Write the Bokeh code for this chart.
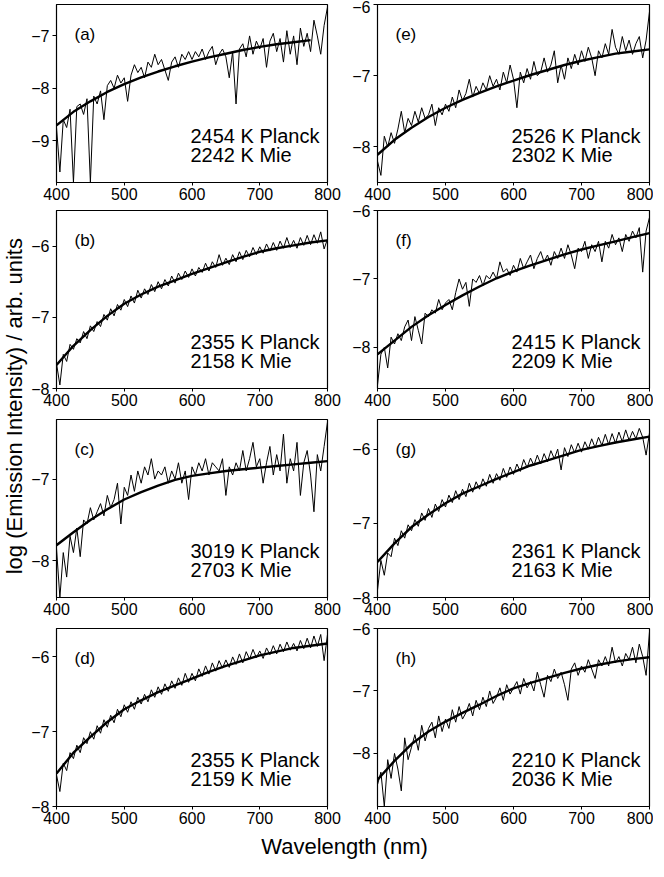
from bokeh.plotting import figure
from bokeh.layouts import row, column
from bokeh.models import Label
from bokeh.embed import file_html
from bokeh.resources import INLINE

FONT = "Liberation Sans"

# wavelength grids (nm)
wl = list(range(400, 805, 5))
fit_wl = list(range(400, 825, 25))
x_ticks = [400, 500, 600, 700, 800]

data_a = [-8.75, -9.6, -8.6, -8.75, -8.4, -9.8, -8.35, -8.3, -8.5, -8.2,
          -9.8, -8.15, -8.3, -8.05, -8.6, -7.95, -7.85, -8.0, -7.75, -7.9,
          -7.8, -8.25, -7.75, -7.55, -7.7, -7.6, -7.8, -7.5, -7.6, -7.35,
          -7.55, -7.45, -7.65, -7.85, -7.5, -7.4, -7.6, -7.35, -7.45, -7.3,
          -7.45, -7.3, -7.4, -7.25, -7.45, -7.3, -7.2, -7.55, -7.35, -7.25,
          -7.4, -7.8, -7.3, -8.3, -7.25, -7.15, -7.4, -7.0, -7.35, -7.1,
          -7.25, -7.05, -7.6, -7.1, -6.95, -7.3, -7.05, -7.5, -6.9, -7.35,
          -7.0, -7.55, -6.85, -7.2, -6.95, -7.3, -6.7, -7.0, -7.35, -6.8,
          -6.45]
data_b = [-7.65, -7.95, -7.52, -7.62, -7.38, -7.45, -7.3, -7.36, -7.2, -7.3,
          -7.12, -7.2, -7.06, -7.13, -6.96, -7.04, -6.88, -6.98, -6.82, -6.9,
          -6.75, -6.85, -6.7, -6.8, -6.62, -6.73, -6.6, -6.68, -6.54, -6.64,
          -6.5, -6.6, -6.47, -6.56, -6.42, -6.52, -6.38, -6.47, -6.35, -6.44,
          -6.32, -6.42, -6.3, -6.37, -6.24, -6.35, -6.22, -6.3, -6.12, -6.27,
          -6.17, -6.26, -6.12, -6.22, -6.08, -6.19, -6.06, -6.15, -6.02, -6.12,
          -6.01, -6.1, -5.97, -6.07, -5.95, -6.06, -5.93, -6.03, -5.88, -6.02,
          -5.92, -6.03, -5.88, -5.99, -5.85, -5.98, -5.84, -5.96, -5.8, -6.04,
          -5.9]
data_c = [-7.85, -8.45, -7.9, -8.2, -7.7, -7.9, -7.6, -7.95, -7.5, -7.55,
          -7.35, -7.5, -7.4, -7.3, -7.45, -7.2, -7.35, -7.25, -7.05, -7.55,
          -7.1, -7.2, -6.95, -7.15, -6.9, -7.05, -6.85, -6.95, -6.75, -7.0,
          -6.9, -6.95, -6.85, -7.05, -6.9, -7.0, -6.8, -7.05, -6.9, -7.25,
          -6.85, -6.95, -6.8, -6.9, -6.75, -6.95, -6.8, -6.85, -6.9, -6.75,
          -7.2, -6.85, -6.95, -6.8, -6.9, -6.65, -6.9, -6.75, -6.55, -6.85,
          -6.75, -7.05, -6.8, -6.6, -6.95, -6.7, -6.9, -6.45, -7.05, -6.75,
          -6.9, -6.55, -7.2, -6.8, -6.65, -6.95, -7.4, -6.7, -6.9, -6.6,
          -6.3]
data_d = [-7.58, -7.8, -7.42, -7.52, -7.28, -7.36, -7.18, -7.28, -7.08, -7.16,
          -7.0, -7.1, -6.92, -7.02, -6.84, -6.94, -6.78, -6.88, -6.7, -6.8,
          -6.64, -6.74, -6.6, -6.7, -6.54, -6.63, -6.5, -6.6, -6.44, -6.54,
          -6.4, -6.5, -6.36, -6.46, -6.32, -6.42, -6.28, -6.38, -6.22, -6.34,
          -6.22, -6.32, -6.16, -6.26, -6.12, -6.23, -6.08, -6.19, -6.05, -6.15,
          -6.04, -6.14, -6.0, -6.1, -5.96, -6.08, -5.93, -6.03, -5.9, -6.01,
          -5.92, -6.02, -5.88, -5.97, -5.85, -5.96, -5.83, -5.93, -5.8, -5.91,
          -5.82, -5.92, -5.78, -5.89, -5.75, -5.88, -5.72, -5.86, -5.7, -6.05,
          -5.7]
data_e = [-8.2, -8.4, -7.85, -8.0, -7.8, -7.95, -7.75, -7.5, -7.8, -7.6,
          -7.7, -7.5, -7.65, -7.45, -7.6, -7.55, -7.4, -7.7, -7.45, -7.55,
          -7.4, -7.5, -7.3, -7.45, -7.2, -7.35, -7.25, -7.05, -7.3, -7.15,
          -7.25, -7.1, -7.2, -7.0, -7.15, -7.05, -7.2, -6.95, -7.1, -6.85,
          -7.05, -7.45, -6.95, -7.1, -6.9, -7.05, -6.8, -7.0, -6.95, -6.75,
          -6.95, -6.85, -6.65, -7.1, -6.85, -7.05, -6.75, -6.9, -6.7, -6.85,
          -6.65, -6.8, -6.6, -6.75, -7.0, -6.65, -6.75, -6.55, -6.7, -6.35,
          -6.6, -6.7, -6.45, -6.65, -6.5, -6.7, -6.55, -6.45, -6.75, -6.5,
          -6.1]
data_f = [-8.55, -8.1, -8.0, -8.3, -7.85, -7.95, -7.8, -7.9, -7.7, -7.6,
          -7.9, -7.55, -7.75, -7.95, -7.5, -7.55, -7.45, -7.5, -7.3, -7.45,
          -7.35, -7.3, -7.45, -7.2, -7.0, -7.15, -7.05, -7.4, -7.0, -7.05,
          -6.95, -7.1, -6.95, -7.0, -6.9, -7.0, -6.75, -6.9, -6.85, -6.95,
          -6.8, -6.9, -6.7, -6.85, -6.75, -6.65, -6.85, -6.7, -6.6, -6.75,
          -6.65, -6.8, -6.6, -6.7, -6.55, -6.7, -6.5, -6.65, -6.85, -6.55,
          -6.6, -6.45, -6.7, -6.5, -6.6, -6.45, -6.75, -6.45, -6.55, -6.35,
          -6.5, -6.4, -6.6, -6.35, -6.45, -6.3, -6.4, -6.25, -6.9, -6.3,
          -6.1]
data_g = [-7.9, -7.5, -7.7, -7.4, -7.45, -7.2, -7.3, -7.1, -7.2, -7.02,
          -7.1, -6.95, -7.04, -6.86, -6.96, -6.8, -6.92, -6.74, -6.84, -6.68,
          -6.78, -6.62, -6.72, -6.56, -6.68, -6.54, -6.64, -6.46, -6.58, -6.44,
          -6.54, -6.4, -6.5, -6.34, -6.46, -6.33, -6.42, -6.26, -6.38, -6.24,
          -6.34, -6.2, -6.3, -6.14, -6.25, -6.12, -6.22, -6.08, -6.2, -6.06,
          -6.17, -6.02, -6.13, -6.0, -6.28, -5.98, -6.1, -5.94, -6.05, -5.92,
          -6.04, -5.9, -6.0, -5.86, -5.98, -5.84, -5.95, -5.8, -5.94, -5.79,
          -5.92, -5.77, -5.9, -5.74, -5.88, -5.76, -5.86, -5.72, -5.84, -6.08,
          -5.78]
data_h = [-8.5, -8.3, -8.85, -8.1, -8.4, -8.0, -8.25, -8.6, -7.75, -8.1,
          -7.9, -7.7, -7.95, -7.55, -7.8, -7.6, -7.5, -7.75, -7.4, -7.65,
          -7.45, -7.6, -7.3, -7.5, -7.25, -7.45, -7.35, -7.2, -7.4, -7.15,
          -7.3, -7.1, -7.25, -7.0, -7.2, -7.1, -6.95, -7.15, -6.9, -7.05,
          -6.95, -6.85, -7.05, -6.8, -6.95, -6.85, -7.0, -6.7, -6.9, -7.1,
          -6.75, -6.85, -6.65, -6.8, -6.7, -6.9, -7.15, -6.65, -6.55, -6.75,
          -6.6, -6.7, -6.5, -6.65, -6.8, -6.5, -6.6, -6.45, -6.6, -6.3,
          -6.55, -6.45, -6.6, -6.4, -6.5, -6.3, -6.55, -6.25, -6.45, -6.75,
          -6.05]

# ---- fitted curves, read at 25 nm steps ----
fit_a = [-8.71, -8.45, -8.25, -8.07, -7.92, -7.79, -7.68, -7.58, -7.49, -7.41,
         -7.34, -7.27, -7.21, -7.16, -7.12, -7.08]
fit_b = [-7.67, -7.4, -7.18, -6.98, -6.81, -6.68, -6.57, -6.48, -6.39, -6.31,
         -6.23, -6.15, -6.08, -6.03, -5.99, -5.95, -5.92]
fit_c = [-7.81, -7.65, -7.5, -7.37, -7.25, -7.16, -7.08, -7.01, -6.96, -6.93,
         -6.9, -6.88, -6.86, -6.84, -6.82, -6.8, -6.78]
fit_d = [-7.56, -7.28, -7.07, -6.87, -6.7, -6.58, -6.47, -6.38, -6.29, -6.2,
         -6.12, -6.05, -5.98, -5.93, -5.88, -5.85, -5.82]
fit_e = [-8.11, -7.9, -7.73, -7.58, -7.45, -7.34, -7.24, -7.15, -7.07, -6.99,
         -6.92, -6.85, -6.79, -6.74, -6.69, -6.66, -6.63]
fit_f = [-8.1, -7.9, -7.7, -7.53, -7.38, -7.24, -7.11, -6.99, -6.89, -6.8,
         -6.72, -6.64, -6.57, -6.51, -6.45, -6.39, -6.33]
fit_g = [-7.52, -7.27, -7.05, -6.88, -6.73, -6.6, -6.5, -6.4, -6.31, -6.22,
         -6.15, -6.08, -6.01, -5.96, -5.91, -5.87, -5.83]
fit_h = [-8.42, -8.12, -7.85, -7.65, -7.49, -7.35, -7.22, -7.08, -6.96, -6.87,
         -6.79, -6.71, -6.64, -6.58, -6.53, -6.49, -6.46]

# ---- panel annotations ----
letters = ["a", "b", "c", "d", "e", "f", "g", "h"]
planck_T = [2454, 2355, 3019, 2355, 2526, 2415, 2361, 2210]
mie_T = [2242, 2158, 2703, 2159, 2302, 2209, 2163, 2036]
y_ranges = [(-9.8, -6.4), (-8.0, -5.5), (-8.45, -6.27), (-8.0, -5.62),
            (-8.5, -6.0), (-8.6, -6.0), (-8.0, -5.6), (-8.85, -6.0)]
y_ticks = [[-9, -8, -7], [-8, -7, -6], [-8, -7], [-8, -7, -6],
           [-8, -7, -6], [-8, -7, -6], [-8, -7, -6], [-8, -7, -6]]
datas = [data_a, data_b, data_c, data_d, data_e, data_f, data_g, data_h]
fits = [fit_a, fit_b, fit_c, fit_d, fit_e, fit_f, fit_g, fit_h]

y_title = "log (Emission Intensity) / arb. units"
x_title = "Wavelength (nm)"

# ---- layout geometry ----
FH = [178, 178, 178, 178]
MBT = [4, 6, 9, 9]
MBB = 22
YLAB_W = 28
XLAB_H = 33


def make_panel(i):
    col, r = divmod(i, 4)
    if col == 0:
        mbl, fw, mbr = 23, 271, 15
    else:
        mbl, fw, mbr = 35, 272, 4
    fh = FH[r]
    y0, y1 = y_ranges[i]
    p = figure(frame_width=fw, frame_height=fh, x_range=(400, 800), y_range=(y0, y1),
               output_backend="svg", toolbar_location=None,
               min_border_left=mbl, min_border_right=mbr,
               min_border_top=MBT[r], min_border_bottom=MBB,
               background_fill_color="white", border_fill_color="white")
    p.outline_line_color = "black"
    p.outline_line_width = 1.2
    p.grid.grid_line_color = None
    p.xaxis.ticker = x_ticks
    p.yaxis.ticker = y_ticks[i]
    for ax in (p.xaxis, p.yaxis):
        ax.axis_line_color = "black"
        ax.major_tick_line_color = "black"
        ax.minor_tick_line_color = None
        ax.major_tick_in = 0
        ax.major_label_text_font = FONT
        ax.major_label_text_font_size = "16px"
        ax.major_label_text_color = "black"
    p.xaxis.major_tick_out = 3
    p.xaxis.major_label_standoff = 2
    p.yaxis.major_tick_out = 4
    p.yaxis.major_label_standoff = 3

    p.line(wl, datas[i], line_color="black", line_width=1.0)
    fw_list = fit_wl[:len(fits[i])]
    p.line(fw_list, fits[i], line_color="black", line_width=2.4)

    span = y1 - y0
    p.add_layout(Label(x=400 + 18 / fw * 400, y=y1 - 30 / fh * span,
                       text="(%s)" % letters[i], text_font=FONT, text_font_size="17px",
                       text_align="left", text_baseline="middle", text_color="black"))
    xl = 400 + 134 / fw * 400
    p.add_layout(Label(x=xl, y=y0 + 47 / fh * span, text="%d K Planck" % planck_T[i],
                       text_font=FONT, text_font_size="20px", text_align="left",
                       text_baseline="middle", text_color="black"))
    p.add_layout(Label(x=xl, y=y0 + 28 / fh * span, text="%d K Mie" % mie_T[i],
                       text_font=FONT, text_font_size="20px", text_align="left",
                       text_baseline="middle", text_color="black"))
    return p


panels = [make_panel(i) for i in range(8)]
rows_total = sum(FH) + sum(MBT) + 4 * MBB

ylab = figure(width=YLAB_W, height=rows_total, x_range=(0, 1), y_range=(0, 1),
              output_backend="svg", toolbar_location=None, min_border=0,
              x_axis_location=None, y_axis_location=None,
              outline_line_color=None, border_fill_color="white")
ylab.grid.grid_line_color = None
ylab.add_layout(Label(x=0.5, y=0.51, text=y_title, angle=90, angle_units="deg",
                      text_font=FONT, text_font_size="22px", text_align="center",
                      text_baseline="middle", text_color="black"))

grid = column(*[row(panels[r], panels[r + 4]) for r in range(4)])
top = row(ylab, grid)

xlab = figure(width=648, height=XLAB_H, x_range=(0, 1), y_range=(0, 1),
              output_backend="svg", toolbar_location=None, min_border=0,
              x_axis_location=None, y_axis_location=None,
              outline_line_color=None, border_fill_color="white")
xlab.grid.grid_line_color = None
xlab.add_layout(Label(x=0.531, y=0.46, text=x_title, text_font=FONT,
                      text_font_size="22px", text_align="center",
                      text_baseline="middle", text_color="black"))

layout = column(top, xlab)

with open("out.html", "w") as f:
    f.write(file_html(layout, INLINE))
